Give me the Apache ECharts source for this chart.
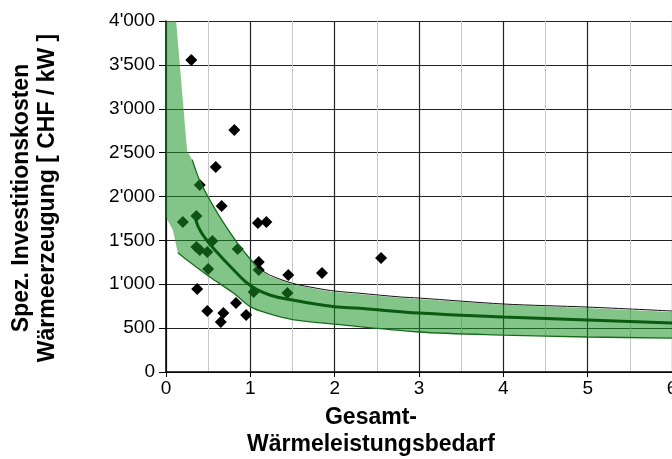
<!DOCTYPE html>
<html>
<head>
<meta charset="utf-8">
<script src="https://cdn.jsdelivr.net/npm/echarts@6/dist/echarts.min.js"></script>
<style>
  html, body { margin: 0; padding: 0; background: #fff; }
  #main { width: 672px; height: 459px; }
</style>
</head>
<body>
<div id="main"></div>
<script>
    // Messpunkte (Anlagen)
    var ptX = [0.30, 0.81, 0.59, 0.40, 0.66, 0.20, 0.36, 0.36, 0.40, 0.49, 0.55, 0.50, 0.85, 0.37,
               0.49, 0.68, 0.65, 0.83, 0.95, 1.09, 1.19, 1.10, 1.10, 1.45, 1.44, 1.85, 2.55, 1.04];
    var ptY = [3556, 2758, 2336, 2131, 1892, 1709, 1778, 1425, 1390, 1368, 1493, 1174, 1402, 946,
               695, 672, 570, 786, 650, 1698, 1709, 1254, 1162, 1105, 900, 1128, 1299, 912];

    // Streuband oben / unten
    var upX = [0, 0.12, 0.25, 0.31, 0.40, 0.52, 0.63, 0.74, 0.88, 1.0, 1.08, 1.23, 1.5, 1.79, 2.0, 2.3, 2.78, 3.0, 4.0, 5.0, 6.0];
    var upY = [4000, 4000, 2520, 2420, 2180, 1960, 1780, 1618, 1425, 1285, 1190, 1092, 1000, 943, 912, 886, 845, 833, 765, 729, 685];
    var loX = [0, 0.08, 0.14, 0.28, 0.52, 0.8, 1.0, 1.2, 1.5, 2.0, 3.0, 4.0, 5.0, 6.0];
    var loY = [1760, 1620, 1360, 1254, 1083, 900, 745, 670, 598, 545, 456, 421, 399, 387];

    // Mittelwertkurve
    var midX = [0.34, 0.38, 0.46, 0.58, 0.78, 1.0, 1.23, 1.5, 1.79, 2.0, 2.3, 3.0, 4.0, 5.0, 6.0];
    var midY = [1790, 1660, 1530, 1390, 1185, 985, 877, 820, 771, 744, 726, 672, 627, 593, 558];

    // obere Grenzlinie (gruen, dann schwarz)
    var edgeX = [0.31, 0.40, 0.52, 0.63, 0.74, 0.88, 1.0, 1.08];
    var edgeY = [2420, 2180, 1960, 1780, 1618, 1425, 1285, 1197];
    var blackX = [1.08, 1.23, 1.5, 1.79, 2.0, 2.3, 2.78, 3.0, 4.0, 5.0, 6.0];
    var blackY = [1197, 1105, 1011, 954, 923, 897, 855, 843, 775, 740, 695];

    var xTicks = [0, 1, 2, 3, 4, 5, 6];

    function zip(a, b) { return a.map(function (v, i) { return [v, b[i]]; }); }

    function fmt(v) {
        if (v < 1000) return String(v);
        var r = String(v % 1000);
        while (r.length < 3) r = '0' + r;
        return Math.floor(v / 1000) + "'" + r;
    }

    var font = 'Liberation Sans, Arial, Helvetica, sans-serif';
    var myChart = echarts.init(document.getElementById('main'));
    var option = {
        animation: false,
        grid: { left: 166, top: 21, right: 0, bottom: 87, outerBoundsMode: 'none', containLabel: false },
        xAxis: {
            type: 'value', min: xTicks[0], max: xTicks[xTicks.length - 1], interval: 1,
            axisLine: { show: true, lineStyle: { color: '#000', width: 1.5 } },
            axisTick: { show: true, length: 5, lineStyle: { color: '#000' } },
            axisLabel: { color: '#000', fontSize: 19, fontFamily: font, margin: 7 },
            splitLine: { show: true, lineStyle: { color: '#222', width: 1.2 } },
            minorTick: { show: false, splitNumber: 2 },
            minorSplitLine: { show: true, lineStyle: { color: '#c8c8c8', width: 1 } }
        },
        yAxis: {
            type: 'value', min: 0, max: 4000, interval: 500,
            axisLine: { show: true, lineStyle: { color: '#000', width: 1.5 } },
            axisTick: { show: true, length: 7, lineStyle: { color: '#000' } },
            axisLabel: { color: '#000', fontSize: 19, fontFamily: font, margin: 11, formatter: fmt },
            splitLine: { show: true, lineStyle: { color: '#222', width: 1.2 } }
        },
        graphic: [
            { type: 'text', x: 22, y: 198, rotation: Math.PI / 2,
              style: { text: 'Spez. Investitionskosten', font: 'bold 23px ' + font, fill: '#000',
                       textAlign: 'center', textVerticalAlign: 'middle' } },
            { type: 'text', x: 48, y: 198, rotation: Math.PI / 2,
              style: { text: 'Wärmeerzeugung [ CHF / kW ]', font: 'bold 23px ' + font, fill: '#000',
                       textAlign: 'center', textVerticalAlign: 'middle' } },
            { type: 'text', x: 371, y: 418,
              style: { text: 'Gesamt-', font: 'bold 23px ' + font, fill: '#000',
                       textAlign: 'center', textVerticalAlign: 'middle' } },
            { type: 'text', x: 371, y: 445,
              style: { text: 'Wärmeleistungsbedarf', font: 'bold 23px ' + font, fill: '#000',
                       textAlign: 'center', textVerticalAlign: 'middle' } }
        ],
        series: [
            {
                type: 'scatter', z: 1, symbol: 'diamond', symbolSize: 12,
                itemStyle: { color: '#000', opacity: 1 },
                data: zip(ptX, ptY)
            },
            {
                type: 'custom', z: 2, clip: true,
                data: [[0, 0]],
                renderItem: function (params, api) {
                    var pts = [];
                    for (var i = 0; i < upX.length; i++) pts.push(api.coord([upX[i], upY[i]]));
                    for (var j = loX.length - 1; j >= 0; j--) pts.push(api.coord([loX[j], loY[j]]));
                    return {
                        type: 'polygon',
                        shape: { points: pts },
                        style: { fill: 'rgba(30,150,40,0.55)', stroke: null }
                    };
                }
            },
            {
                type: 'line', z: 3, smooth: 0.4, symbol: 'none',
                lineStyle: { color: '#0b5a12', width: 3 },
                data: zip(midX, midY)
            },
            {
                type: 'line', z: 3, smooth: 0.3, symbol: 'none',
                lineStyle: { color: '#176b1c', width: 1.3 },
                data: zip(loX.slice(2), loY.slice(2))
            },
            {
                type: 'line', z: 3, smooth: 0.3, symbol: 'none',
                lineStyle: { color: '#176b1c', width: 1.3 },
                data: zip(edgeX, edgeY)
            },
            {
                type: 'line', z: 3, smooth: 0.3, symbol: 'none',
                lineStyle: { color: '#111', width: 1 },
                data: zip(blackX, blackY)
            }
        ]
    };
    myChart.setOption(option);
</script>
</body>
</html>
